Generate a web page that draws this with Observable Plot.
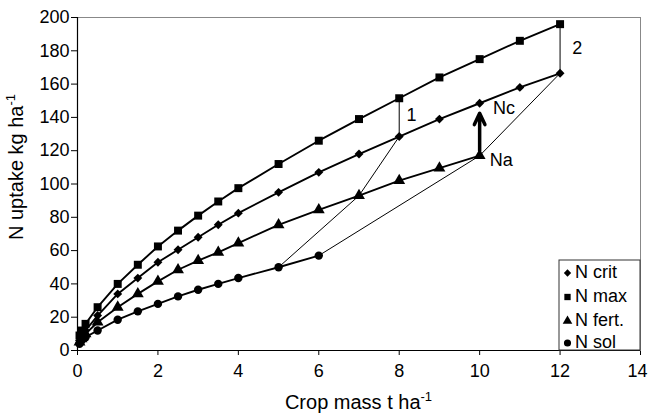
<!DOCTYPE html>
<html><head><meta charset="utf-8">
<script src="https://cdn.jsdelivr.net/npm/d3@7"></script>
<script src="https://cdn.jsdelivr.net/npm/@observablehq/plot@0.6"></script>
<style>
body{margin:0;background:#fff;font-family:"Liberation Sans",Arial,sans-serif}
#chart{position:relative;width:648px;height:414px}
</style>
</head><body><div id="chart"></div>
<script>
const mass  = [0.05, 0.1, 0.2, 0.5, 1, 1.5, 2, 2.5, 3, 3.5, 4, 5, 6, 7, 8, 9, 10, 11, 12];
const nCrit = [6, 8, 12, 21, 34, 43.5, 53, 60.5, 68, 75.5, 82.5, 95, 107, 118, 128.5, 139, 148.5, 158, 166.5];
const nMax  = [9, 12, 16, 26, 40, 51.5, 62.5, 72, 81, 89.5, 97.5, 112, 126, 139, 151.5, 164, 175, 186, 196];
const nFert = [5, 7, 10, 17, 26, 34, 41.5, 48.5, 54, 59, 64.5, 75.5, 84.5, 93, 102, 109.5, 117];
const nSol  = [4, 6, 8, 12, 18.5, 23.5, 28, 32.5, 36.5, 40, 43.5, 50, 57];
const xTicks = [0, 2, 4, 6, 8, 10, 12, 14];
const yTicks = [0, 20, 40, 60, 80, 100, 120, 140, 160, 180, 200];
const seriesNames = ["N crit", "N max", "N fert.", "N sol"];
const symbols = ["diamond2", "square", "triangle", "circle"];
const annotations = [
  {label: "1", x: 8.18, y: 141.5},
  {label: "2", x: 12.3, y: 181.5},
  {label: "Nc", x: 10.33, y: 145.5},
  {label: "Na", x: 10.25, y: 114}
];

const toPts = vals => vals.map((v, i) => ({x: mass[i], y: v}));
const crit = toPts(nCrit), max = toPts(nMax), fert = toPts(nFert), sol = toPts(nSol);
const idx = m => mass.indexOf(m);
// transition paths
const path1 = [{x: 5, y: nSol[idx(5)]}, {x: 7, y: nFert[idx(7)]}, {x: 8, y: nCrit[idx(8)]}];
const path2 = [{x: 6, y: nSol[idx(6)]}, {x: 10, y: nFert[idx(10)]}, {x: 12, y: nCrit[idx(12)]}];
const gaps = [
  {x: 8, y1: nCrit[idx(8)], y2: nMax[idx(8)]},
  {x: 12, y1: nCrit[idx(12)], y2: nMax[idx(12)]}
];
const arrowD = [{x: 10, y1: nFert[idx(10)] + 3, y2: nCrit[idx(10)] - 6}];

const chart = Plot.plot({
  width: 648, height: 414,
  marginLeft: 77, marginRight: 8, marginTop: 17, marginBottom: 64,
  style: {fontFamily: "Liberation Sans, Arial, sans-serif", fontSize: "18px", color: "#000", background: "#fff"},
  x: {domain: [0, 14], ticks: xTicks, label: null, tickSize: 5, tickPadding: 9},
  y: {domain: [0, 200], ticks: yTicks, label: null, tickSize: 6, tickPadding: 2},
  marks: [
    Plot.frame({stroke: "#888", strokeWidth: 1}),
    Plot.ruleX([0], {stroke: "#000", strokeWidth: 1.2}),
    Plot.ruleY([0], {stroke: "#000", strokeWidth: 1.2}),
    Plot.line(path1, {x: "x", y: "y", stroke: "#000", strokeWidth: 1}),
    Plot.line(path2, {x: "x", y: "y", stroke: "#000", strokeWidth: 1}),
    Plot.ruleX(gaps, {x: "x", y1: "y1", y2: "y2", stroke: "#000", strokeWidth: 1}),
    Plot.line(max, {x: "x", y: "y", stroke: "#000", strokeWidth: 1.9}),
    Plot.line(crit, {x: "x", y: "y", stroke: "#000", strokeWidth: 1.9}),
    Plot.line(fert, {x: "x", y: "y", stroke: "#000", strokeWidth: 1.9}),
    Plot.line(sol, {x: "x", y: "y", stroke: "#000", strokeWidth: 1.9}),
    Plot.dot(max, {x: "x", y: "y", symbol: symbols[1], fill: "#000", r: 4.5}),
    Plot.dot(crit, {x: "x", y: "y", symbol: symbols[0], fill: "#000", r: 4}),
    Plot.dot(fert, {x: "x", y: "y", symbol: symbols[2], fill: "#000", r: 4.4}),
    Plot.dot(sol, {x: "x", y: "y", symbol: symbols[3], fill: "#000", r: 4.2}),
    Plot.arrow(arrowD, {x: "x", y1: "y1", y2: "y2", stroke: "#000", strokeWidth: 3.5, headLength: 10, headAngle: 50}),
    Plot.text(annotations, {x: "x", y: "y", text: "label", textAnchor: "start", fontSize: 18, fill: "#000"})
  ]
});
document.getElementById("chart").appendChild(chart);

const svg = d3.select(chart);
const xs = chart.scale("x"), ys = chart.scale("y");
// keep the last x tick label inside the picture
svg.selectAll("g[aria-label='x-axis tick label'] text").filter(function() { return this.textContent === "14"; }).attr("dx", -3);

// axis titles
const xt = svg.append("text").attr("x", (xs.apply(0) + xs.apply(14)) / 2).attr("y", 409)
  .attr("text-anchor", "middle").attr("font-size", 20).attr("fill", "#000");
xt.append("tspan").text("Crop mass t ha");
xt.append("tspan").attr("dy", -8).attr("font-size", 13).text("-1");
const yt = svg.append("text")
  .attr("transform", `translate(23,167) rotate(-90)`)
  .attr("text-anchor", "middle").attr("font-size", 20).attr("fill", "#000");
yt.append("tspan").text("N uptake kg ha");
yt.append("tspan").attr("dy", -8).attr("font-size", 13).text("-1");

// legend
const lg = svg.append("g");
lg.append("rect").attr("x", 559).attr("y", 260).attr("width", 81).attr("height", 90)
  .attr("fill", "#fff").attr("stroke", "#333").attr("stroke-width", 1);
const d3sym = {diamond2: d3.symbolDiamond2, square: d3.symbolSquare, triangle: d3.symbolTriangle, circle: d3.symbolCircle};
const sizes = [34, 40, 40, 40];
const rowY = [272, 296, 320, 342];
seriesNames.forEach((name, i) => {
  lg.append("path").attr("d", d3.symbol(d3sym[symbols[i]], sizes[i])()).attr("transform", `translate(567.5,${rowY[i] + 1})`).attr("fill", "#000");
  lg.append("text").attr("x", 575).attr("y", rowY[i]).attr("dy", "0.35em").attr("text-anchor", "start")
    .attr("font-size", 18).attr("fill", "#000").text(name);
});
</script>
</body></html>
